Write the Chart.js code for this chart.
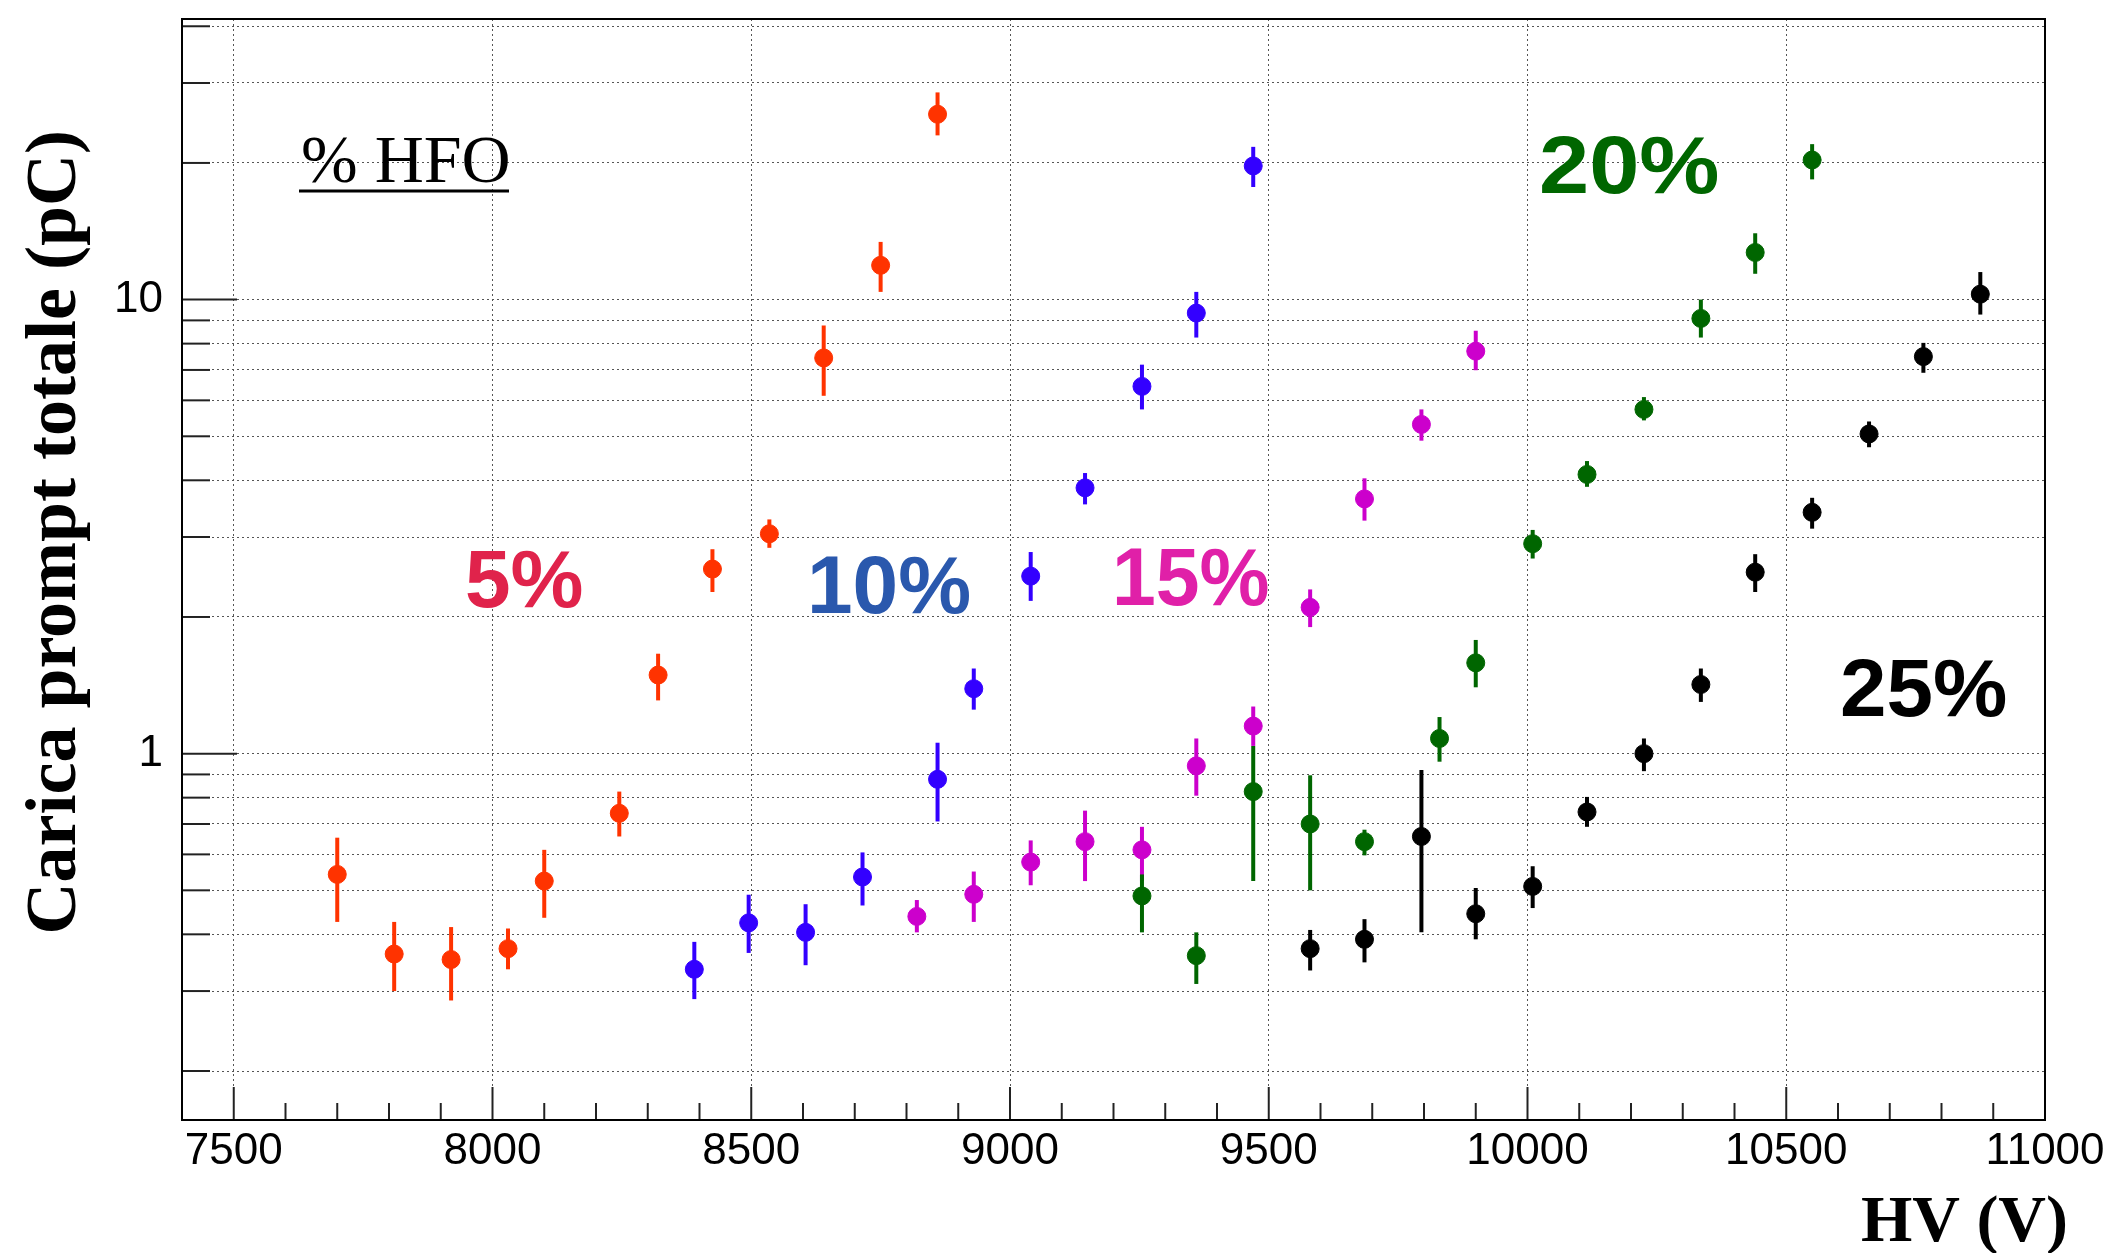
<!DOCTYPE html>
<html>
<head>
<meta charset="utf-8">
<script src="https://cdn.jsdelivr.net/npm/chart.js@4.4.1/dist/chart.umd.min.js"></script>
<style>
  body { margin: 0; background: #fff; }
  #wrap { width: 2126px; height: 1253px; position: relative; }
</style>
</head>
<body>
<div id="wrap"><canvas id="chart"></canvas></div>
<script>
// HV (V) and total prompt charge (pC) with lower / upper error bounds, per % HFO
const hv5  = [7700, 7810, 7920, 8030, 8100, 8245, 8320, 8425, 8535, 8640, 8750, 8860];
const q5   = [0.542, 0.362, 0.352, 0.372, 0.524, 0.739, 1.49, 2.55, 3.05, 7.44, 11.9, 25.6];
const q5Lo = [0.426, 0.300, 0.286, 0.335, 0.435, 0.657, 1.31, 2.27, 2.84, 6.14, 10.4, 23.0];
const q5Hi = [0.653, 0.426, 0.415, 0.412, 0.614, 0.825, 1.66, 2.82, 3.28, 8.77, 13.4, 28.6];

const hv10  = [8390, 8495, 8605, 8715, 8860, 8930, 9040, 9145, 9255, 9360, 9470];
const q10   = [0.335, 0.424, 0.404, 0.535, 0.878, 1.39, 2.46, 3.85, 6.44, 9.34, 19.7];
const q10Lo = [0.288, 0.364, 0.342, 0.463, 0.709, 1.25, 2.17, 3.54, 5.73, 8.25, 17.7];
const q10Hi = [0.385, 0.489, 0.466, 0.606, 1.057, 1.54, 2.78, 4.15, 7.19, 10.4, 21.7];

const hv15  = [8820, 8930, 9040, 9145, 9255, 9360, 9470, 9580, 9685, 9795, 9900];
const q15   = [0.438, 0.490, 0.577, 0.640, 0.614, 0.940, 1.15, 2.10, 3.64, 5.31, 7.70];
const q15Lo = [0.404, 0.426, 0.513, 0.524, 0.524, 0.808, 1.04, 1.90, 3.26, 4.89, 6.99];
const q15Hi = [0.476, 0.550, 0.644, 0.749, 0.690, 1.080, 1.27, 2.30, 4.04, 5.73, 8.54];

const hv20  = [9255, 9360, 9470, 9580, 9685, 9830, 9900, 10010, 10115, 10225, 10335, 10440, 10550];
const q20   = [0.486, 0.359, 0.825, 0.700, 0.640, 1.08, 1.585, 2.90, 4.12, 5.73, 9.09, 12.7, 20.3];
const q20Lo = [0.404, 0.311, 0.524, 0.500, 0.597, 0.96, 1.40, 2.69, 3.87, 5.42, 8.25, 11.4, 18.4];
const q20Hi = [0.542, 0.404, 1.040, 0.896, 0.680, 1.204, 1.78, 3.11, 4.41, 6.10, 10.0, 14.0, 22.0];

const hv25  = [9580, 9685, 9795, 9900, 10010, 10115, 10225, 10335, 10440, 10550, 10660, 10765, 10875];
const q25   = [0.372, 0.390, 0.657, 0.444, 0.510, 0.744, 1.00, 1.42, 2.51, 3.40, 5.06, 7.49, 10.28];
const q25Lo = [0.333, 0.347, 0.404, 0.390, 0.457, 0.690, 0.915, 1.30, 2.27, 3.13, 4.73, 6.90, 9.27];
const q25Hi = [0.409, 0.432, 0.921, 0.506, 0.565, 0.803, 1.08, 1.54, 2.75, 3.66, 5.39, 8.03, 11.5];

const seriesNames  = ['5%', '10%', '15%', '20%', '25%'];
const markerColors = ['#ff3300', '#3300ff', '#cc00cc', '#006600', '#000000'];

const xTicks = [7500, 8000, 8500, 9000, 9500, 10000, 10500, 11000];
const yTicks = [0.2, 0.3, 0.4, 0.5, 0.6, 0.7, 0.8, 0.9, 1, 2, 3, 4, 5, 6, 7, 8, 9, 10, 20, 30, 40];
const yLabelled = [1, 10];

function makePoints(hv, q, lo, hi) {
    return hv.map((v, i) => ({ x: v, y: q[i], lo: lo[i], hi: hi[i] }));
}

const allSeries = [
    makePoints(hv5, q5, q5Lo, q5Hi),
    makePoints(hv10, q10, q10Lo, q10Hi),
    makePoints(hv15, q15, q15Lo, q15Hi),
    makePoints(hv20, q20, q20Lo, q20Hi),
    makePoints(hv25, q25, q25Lo, q25Hi)
];

// vertical error bars, drawn under the markers
const errorBars = {
    id: 'errorBars',
    beforeDatasetsDraw(chart) {
        const { ctx, scales: { x, y } } = chart;
        chart.data.datasets.forEach(ds => {
            ctx.save();
            ctx.strokeStyle = ds.borderColor;
            ctx.lineWidth = 4;
            ds.data.forEach(p => {
                const px = x.getPixelForValue(p.x);
                ctx.beginPath();
                ctx.moveTo(px, y.getPixelForValue(p.lo));
                ctx.lineTo(px, y.getPixelForValue(p.hi));
                ctx.stroke();
            });
            ctx.restore();
        });
    }
};

// frame, inward ticks and the text annotations
const decorations = {
    id: 'decorations',
    afterDraw(chart) {
        const { ctx, chartArea: a, scales: { x, y } } = chart;
        ctx.save();

        ctx.strokeStyle = '#222';
        ctx.lineWidth = 2;
        for (let v = 7500; v <= 11000; v += 100) {
            const px = x.getPixelForValue(v);
            const len = v % 500 === 0 ? 33 : 17;
            ctx.beginPath();
            ctx.moveTo(px, a.bottom);
            ctx.lineTo(px, a.bottom - len);
            ctx.stroke();
        }
        yTicks.forEach(v => {
            const py = y.getPixelForValue(v);
            const len = yLabelled.includes(v) ? 55 : 28;
            ctx.beginPath();
            ctx.moveTo(a.left, py);
            ctx.lineTo(a.left + len, py);
            ctx.stroke();
        });

        ctx.strokeStyle = '#000';
        ctx.strokeRect(a.left, a.top, a.right - a.left, a.bottom - a.top);

        // % HFO
        ctx.fillStyle = '#000';
        ctx.font = '68px "Liberation Serif"';
        ctx.textAlign = 'left';
        ctx.textBaseline = 'alphabetic';
        ctx.fillText('% HFO', 301, 182);
        ctx.lineWidth = 3;
        ctx.beginPath();
        ctx.moveTo(299, 191);
        ctx.lineTo(509, 191);
        ctx.stroke();

        // series labels
        const labelPos = [[465, 607], [807, 613], [1112, 605], [1539, 193], [1840, 716]];
        const labelColors = ['#e0234b', '#2a58ad', '#e020a8', '#006600', '#000000'];
        const labelStretch = [1, 1, 0.96, 1.1, 1.02];
        ctx.font = 'bold 82px "Liberation Sans"';
        seriesNames.forEach((name, i) => {
            ctx.save();
            ctx.fillStyle = labelColors[i];
            ctx.translate(labelPos[i][0], labelPos[i][1]);
            ctx.scale(labelStretch[i], 1);
            ctx.fillText(name, 0, 0);
            ctx.restore();
        });

        // axis titles
        ctx.fillStyle = '#000';
        ctx.font = 'bold 66px "Liberation Serif"';
        ctx.textAlign = 'right';
        ctx.fillText('HV (V)', 2068, 1241);

        ctx.translate(75, 130);
        ctx.rotate(-Math.PI / 2);
        ctx.font = 'bold 72px "Liberation Serif"';
        ctx.fillText('Carica prompt totale (pC)', 0, 0);

        ctx.restore();
    }
};

Chart.defaults.font.family = '"Liberation Sans", Arial, sans-serif';
Chart.defaults.color = '#000';

new Chart(document.getElementById('chart'), {
    type: 'scatter',
    data: {
        datasets: allSeries.map((pts, i) => ({
            label: seriesNames[i],
            data: pts,
            backgroundColor: markerColors[i],
            borderColor: markerColors[i],
            borderWidth: 1,
            pointRadius: 9,
            pointHoverRadius: 9
        }))
    },
    options: {
        responsive: true,
        maintainAspectRatio: false,
        animation: false,
        devicePixelRatio: 1,
        layout: { padding: { left: 0, right: 81, top: 19, bottom: 0 } },
        plugins: { legend: { display: false }, tooltip: { enabled: false } },
        scales: {
            x: {
                type: 'linear',
                min: 7400,
                max: 11000,
                afterBuildTicks: s => { s.ticks = xTicks.map(v => ({ value: v })); },
                afterFit: s => { s.height = 133; s.paddingLeft = 0; s.paddingRight = 0; },
                grid: { color: '#555', lineWidth: 1, drawTicks: false },
                border: { display: false, dash: [2, 3] },
                ticks: {
                    autoSkip: false,
                    maxRotation: 0,
                    padding: 5,
                    font: { size: 44 },
                    callback: v => String(v)
                }
            },
            y: {
                type: 'logarithmic',
                min: 0.156,
                max: 41.5,
                afterBuildTicks: s => { s.ticks = yTicks.map(v => ({ value: v })); },
                afterFit: s => { s.width = 182; s.paddingTop = 0; s.paddingBottom = 0; },
                grid: { color: '#555', lineWidth: 1, drawTicks: false },
                border: { display: false, dash: [2, 3] },
                ticks: {
                    autoSkip: false,
                    padding: 19,
                    font: { size: 44 },
                    callback: v => yLabelled.includes(v) ? String(v) : ''
                }
            }
        }
    },
    plugins: [errorBars, decorations]
});
</script>
</body>
</html>
